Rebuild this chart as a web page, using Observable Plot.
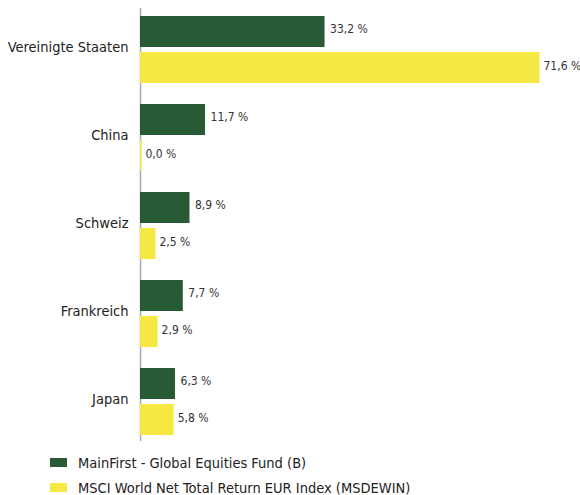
<!DOCTYPE html>
<html>
<head>
<meta charset="utf-8">
<script src="https://cdn.jsdelivr.net/npm/d3@7"></script>
<script src="https://cdn.jsdelivr.net/npm/@observablehq/plot@0.6"></script>
<style>
  body { margin: 0; background: #fff; font-family: "DejaVu Sans Condensed", "DejaVu Sans", sans-serif; font-stretch: condensed; }
  svg { display: block; }
  svg, svg text { font-family: "DejaVu Sans Condensed", "DejaVu Sans", sans-serif !important; font-stretch: condensed !important; }
  #legend { margin-left: 50px; margin-top: 2px; font-size: 14.5px; color: #222; }
  .row { display: flex; align-items: center; height: 25px; }
  .sw { width: 17px; height: 9px; margin-right: 11px; }
</style>
</head>
<body>
<div id="chart"></div>
<div id="legend"></div>
<script>
const countries = ["Vereinigte Staaten", "China", "Schweiz", "Frankreich", "Japan"];
const seriesNames = ["MainFirst - Global Equities Fund (B)", "MSCI World Net Total Return EUR Index (MSDEWIN)"];
const fundValues = [33.2, 11.7, 8.9, 7.7, 6.3];
const indexValues = [71.6, 0.0, 2.5, 2.9, 5.8];
const colors = ["#295a36", "#f5e843"];

const fund = countries.map((c, i) => ({country: c, value: fundValues[i]}));
const index = countries.map((c, i) => ({country: c, value: indexValues[i]}));
const fmt = v => v.toFixed(1).replace(".", ",") + " %";

const chart = Plot.plot({
  width: 580,
  height: 448,
  marginLeft: 140,
  marginRight: 42,
  marginTop: 14,
  marginBottom: 11,
  style: {fontSize: "13px", color: "#222", background: "#fff"},
  x: {domain: [0, 71.6], axis: null},
  y: {domain: countries, paddingInner: 0.236, paddingOuter: 0, axis: null},
  marks: [
    Plot.ruleX([0], {stroke: "#aaa", strokeWidth: 1.5, insetTop: -6, insetBottom: -4}),
    Plot.barX(fund, {y: "country", x: "value", fill: colors[0], insetBottom: 36}),
    Plot.barX(index, {y: "country", x: "value", fill: colors[1], insetTop: 36, insetRight: -1.5}),
    Plot.text(fund, {y: "country", x: "value", text: d => fmt(d.value), textAnchor: "start", dx: 5, dy: -21, fill: "#333", fontSize: 12}),
    Plot.text(index, {y: "country", x: "value", text: d => fmt(d.value), textAnchor: "start", dx: 5, dy: 16, fill: "#333", fontSize: 12}),
    Plot.axisY({tickSize: 0, tickPadding: 12, dy: -3, fontSize: 14.5, fill: "#222", label: null})
  ]
});
document.getElementById("chart").appendChild(chart);

const legend = document.getElementById("legend");
seriesNames.forEach((n, i) => {
  const row = document.createElement("div");
  row.className = "row";
  const sw = document.createElement("div");
  sw.className = "sw";
  sw.style.background = colors[i];
  const t = document.createElement("span");
  t.textContent = n;
  row.appendChild(sw);
  row.appendChild(t);
  legend.appendChild(row);
});
</script>
</body>
</html>
